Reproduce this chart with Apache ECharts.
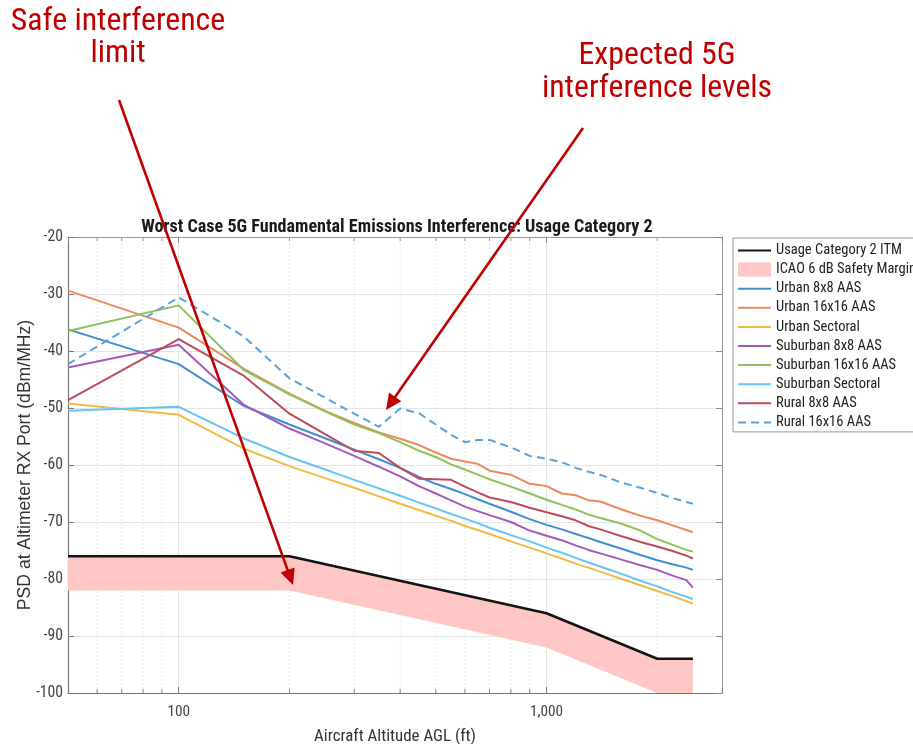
<!DOCTYPE html>
<html>
<head>
<meta charset="utf-8">
<script src="https://cdn.jsdelivr.net/npm/echarts@6/dist/echarts.min.js"></script>
<style>
  html, body { margin: 0; padding: 0; background: #ffffff; }
  #chart { width: 913px; height: 744px; }
</style>
</head>
<body>
<div id="chart"></div>
<script>
// ---- Data (aircraft altitude AGL in ft, PSD in dBm/MHz) ----
const altitudes = [50, 100, 150, 200, 250, 300, 350, 400, 450, 500, 550, 600, 650, 700,
                   800, 900, 1000, 1100, 1200, 1300, 1400, 1600, 1800, 2000, 2200, 2400, 2500];

const urban8x8         = [-36.2, -42.3, -49.6, -52.9, -55.3, -57.3, -59.0, -60.5, -62.1, -63.3, -64.2, -65.1, -66.0, -66.8,
                          -68.2, -69.5, -70.5, -71.3, -72.1, -72.8, -73.5, -74.7, -75.8, -76.7, -77.4, -78.0, -78.4];
const urban16x16       = [-29.4, -35.9, -43.1, -47.5, -50.5, -52.6, -54.3, -55.4, -56.5, -57.8, -58.9, -59.4, -59.8, -61.0,
                          -61.7, -63.3, -63.7, -65.0, -65.3, -66.2, -66.4, -67.8, -68.9, -69.7, -70.6, -71.4, -71.8];
const urbanSectoral    = [-49.2, -51.2, -57.1, -60.2, -62.3, -64.0, -65.5, -66.8, -67.9, -68.9, -69.8, -70.7, -71.4, -72.1,
                          -73.4, -74.5, -75.5, -76.4, -77.3, -78.0, -78.7, -80.0, -81.1, -82.1, -83.0, -83.9, -84.3];
const suburban8x8      = [-42.9, -38.9, -49.4, -53.6, -56.2, -58.4, -60.3, -62.0, -63.7, -65.0, -66.2, -67.3, -68.1, -68.8,
                          -70.0, -71.5, -72.4, -73.2, -74.1, -74.9, -75.5, -76.6, -77.6, -78.4, -79.4, -80.2, -81.5];
const suburban16x16    = [-36.5, -32.0, -43.3, -47.6, -50.6, -52.9, -54.4, -56.0, -57.5, -58.6, -59.9, -60.8, -61.7, -62.5,
                          -63.8, -65.0, -66.1, -67.0, -67.8, -68.7, -69.3, -70.3, -71.5, -73.0, -74.0, -74.9, -75.2];
const suburbanSectoral = [-50.5, -49.8, -55.3, -58.6, -60.8, -62.6, -64.1, -65.4, -66.6, -67.6, -68.6, -69.4, -70.2, -71.0,
                          -72.3, -73.4, -74.5, -75.4, -76.3, -77.1, -77.8, -79.1, -80.3, -81.3, -82.3, -83.1, -83.5];
const rural8x8         = [-48.6, -37.9, -44.3, -51.0, -54.6, -57.5, -57.9, -60.5, -62.4, -62.5, -62.6, -63.8, -64.8, -65.7,
                          -66.5, -67.5, -68.3, -69.0, -69.7, -70.7, -71.3, -72.5, -73.5, -74.3, -75.1, -75.9, -76.4];
const rural16x16       = [-42.3, -30.6, -37.4, -44.8, -48.2, -51.0, -53.3, -50.1, -50.9, -52.9, -54.7, -56.0, -55.6, -55.6,
                          -56.9, -58.4, -58.9, -59.5, -60.5, -61.2, -61.7, -63.1, -64.0, -64.9, -65.8, -66.5, -66.8];

// Usage Category 2 ITM interference limit and the ICAO safety margin below it
const itmAltitudes = [50, 200, 1000, 2000, 2500];
const itmLimit     = [-76, -76, -86, -94, -94];
const safetyMarginDb = 6;

// Axis settings
const xRange = [50, 3000];
const yRange = [-100, -20];
const yStep = 10;
const minorAltitudeTicks = [60, 70, 80, 90, 200, 300, 400, 500, 600, 700, 800, 900, 2000];

// ---- Fonts: use a narrow sans face for horizontal text when one is installed ----
function measure(family) {
  const ctx = document.createElement('canvas').getContext('2d');
  ctx.font = '40px ' + family;
  return ctx.measureText('Usage Category 2 ITM').width;
}
const REGULAR = '"Liberation Sans", Arial, sans-serif';
const baseWidth = measure('"Liberation Sans"');
let NARROW = REGULAR, scaleK = 1;
for (const cand of ['Liberation Sans Narrow', 'Arial Narrow', 'Roboto Condensed', 'Noto Sans Condensed', 'DejaVu Sans Condensed']) {
  const w = measure('"' + cand + '", "Liberation Sans"');
  if (w < 0.9 * baseWidth) {
    NARROW = '"' + cand + '", ' + REGULAR;
    scaleK = baseWidth / w;
    break;
  }
}
const fs = s => Math.round(s * scaleK * 10) / 10;

const RED = '#c00000';
const PINK = '#ffc6c6';

const pairs = vals => altitudes.map((a, i) => [a, vals[i]]);

function lineSeries(name, vals, color, dashed) {
  return {
    name, type: 'line', data: pairs(vals),
    symbol: 'none', showSymbol: false, z: 3,
    lineStyle: { color, width: 2, type: dashed ? [8, 5] : 'solid' },
    itemStyle: { color }
  };
}

function arrow(x1, y1, x2, y2) {
  const dx = x2 - x1, dy = y2 - y1, L = Math.hypot(dx, dy);
  const ux = dx / L, uy = dy / L, hl = 16, hw = 7.5;
  const bx = x2 - ux * hl, by = y2 - uy * hl;
  return [
    { type: 'line', z: 100, shape: { x1, y1, x2: bx + ux * 2, y2: by + uy * 2 },
      style: { stroke: RED, lineWidth: 2.6 } },
    { type: 'polygon', z: 100,
      shape: { points: [[x2, y2], [bx - uy * hw, by + ux * hw], [bx + uy * hw, by - ux * hw]] },
      style: { fill: RED } }
  ];
}

const logLabel = v => {
  const l = Math.log10(v);
  return Math.abs(l - Math.round(l)) < 1e-6 ? Math.round(v).toLocaleString('en-US') : '';
};

const chart = echarts.init(document.getElementById('chart'), null, { renderer: 'canvas' });

const option = {
  animation: false,
  backgroundColor: '#ffffff',
  title: {
    text: 'Worst Case 5G Fundamental Emissions Interference: Usage Category 2',
    left: 392, top: 213, textAlign: 'center',
    textStyle: { fontFamily: NARROW, fontSize: fs(15.6), fontWeight: 'bold', color: '#1a1a1a' }
  },
  grid: { left: 68, right: 191, top: 237, bottom: 51, containLabel: false, outerBoundsMode: 'none' },
  legend: {
    orient: 'vertical', left: 733, top: 238,
    padding: [5, 4, 2, 4], itemWidth: 33, itemHeight: 14, itemGap: 4.1,
    backgroundColor: '#ffffff', borderColor: '#9a9a9a', borderWidth: 1,
    selectedMode: false,
    // line entries show only their stroke; the band entry keeps its filled box
    itemStyle: { opacity: 0 },
    textStyle: { fontFamily: NARROW, fontSize: fs(12.5), lineHeight: 14, color: '#222' },
    data: [
      'Usage Category 2 ITM',
      { name: 'ICAO 6 dB Safety Margin', icon: 'rect', itemStyle: { color: PINK, opacity: 1 } },
      'Urban 8x8 AAS', 'Urban 16x16 AAS', 'Urban Sectoral',
      'Suburban 8x8 AAS', 'Suburban 16x16 AAS', 'Suburban Sectoral',
      'Rural 8x8 AAS', 'Rural 16x16 AAS'
    ]
  },
  xAxis: [
    {
      type: 'log', logBase: 10, min: xRange[0], max: xRange[1],
      name: 'Aircraft Altitude AGL (ft)', nameLocation: 'middle', nameGap: 35, nameMoveOverlap: false,
      nameTextStyle: { fontFamily: NARROW, fontSize: fs(14.6), color: '#333' },
      axisLine: { show: true, lineStyle: { color: '#777', width: 1.2 } },
      axisTick: { show: true, inside: true, length: 6, lineStyle: { color: '#777' } },
      axisLabel: { formatter: logLabel, margin: 12, fontFamily: NARROW, fontSize: fs(13.2), color: '#444' },
      splitLine: { show: true, lineStyle: { color: '#e4e4e4', width: 1 } },
      minorTick: { show: false }, minorSplitLine: { show: false }
    },
    {
      type: 'log', logBase: 10, min: xRange[0], max: xRange[1], position: 'top',
      axisLine: { show: true, lineStyle: { color: '#999', width: 1 } },
      axisTick: { show: true, inside: true, length: 6, lineStyle: { color: '#888' } },
      axisLabel: { show: false }, splitLine: { show: false }
    }
  ],
  yAxis: [
    {
      type: 'value', min: yRange[0], max: yRange[1], interval: yStep,
      name: 'PSD at Altimeter RX Port (dBm/MHz)', nameLocation: 'middle', nameGap: 34, nameMoveOverlap: false,
      nameTextStyle: { fontFamily: REGULAR, fontSize: 17.6, color: '#333' },
      axisLine: { show: true, lineStyle: { color: '#777', width: 1.2 } },
      axisTick: { show: true, inside: true, length: 6, lineStyle: { color: '#777' } },
      axisLabel: { margin: 5, fontFamily: NARROW, fontSize: fs(13.6), color: '#444' },
      splitLine: { show: true, lineStyle: { color: '#e4e4e4', width: 1 } }
    },
    {
      type: 'value', min: yRange[0], max: yRange[1], interval: yStep, position: 'right',
      axisLine: { show: true, lineStyle: { color: '#999', width: 1 } },
      axisTick: { show: true, inside: true, length: 6, lineStyle: { color: '#888' } },
      axisLabel: { show: false }, splitLine: { show: false }
    }
  ],
  series: [
    // dotted minor grid at 2..9 x decade, with inside ticks on bottom and top edges
    {
      name: 'minor grid', type: 'custom', silent: true, z: 1,
      data: minorAltitudeTicks.map(v => [v, yRange[0]]),
      renderItem: (params, api) => {
        const v = api.value(0);
        const b = api.coord([v, yRange[0]]);
        const t = api.coord([v, yRange[1]]);
        return {
          type: 'group',
          children: [
            { type: 'line', shape: { x1: b[0], y1: b[1], x2: t[0], y2: t[1] },
              style: { stroke: '#dedede', lineWidth: 1, lineDash: [1.5, 2.5] } },
            { type: 'line', shape: { x1: b[0], y1: b[1], x2: b[0], y2: b[1] - 4 },
              style: { stroke: '#888', lineWidth: 1 } },
            { type: 'line', shape: { x1: t[0], y1: t[1], x2: t[0], y2: t[1] + 4 },
              style: { stroke: '#999', lineWidth: 1 } }
          ]
        };
      }
    },
    // 6 dB safety margin band beneath the ITM limit
    {
      name: 'ICAO 6 dB Safety Margin', type: 'custom', z: 2, silent: true,
      itemStyle: { color: PINK },
      data: itmAltitudes.map((a, i) => [a, itmLimit[i]]),
      renderItem: (params, api) => {
        if (params.dataIndex !== 0) return null;
        const upper = itmAltitudes.map((a, i) => api.coord([a, itmLimit[i]]));
        const lower = itmAltitudes.map((a, i) => api.coord([a, Math.max(yRange[0], itmLimit[i] - safetyMarginDb)])).reverse();
        return { type: 'polygon', shape: { points: upper.concat(lower) }, style: { fill: PINK } };
      }
    },
    {
      name: 'Usage Category 2 ITM', type: 'line', symbol: 'none', z: 4,
      data: itmAltitudes.map((a, i) => [a, itmLimit[i]]),
      lineStyle: { color: '#141414', width: 2.6 }, itemStyle: { color: '#141414' }
    },
    lineSeries('Urban 8x8 AAS', urban8x8, '#3f8fd0'),
    lineSeries('Urban 16x16 AAS', urban16x16, '#ec8a5c'),
    lineSeries('Urban Sectoral', urbanSectoral, '#efbb45'),
    lineSeries('Suburban 8x8 AAS', suburban8x8, '#a45ab7'),
    lineSeries('Suburban 16x16 AAS', suburban16x16, '#8fc25a'),
    lineSeries('Suburban Sectoral', suburbanSectoral, '#66c5f0'),
    lineSeries('Rural 8x8 AAS', rural8x8, '#bd4b5b'),
    lineSeries('Rural 16x16 AAS', rural16x16, '#5aa2dc', true)
  ],
  graphic: [
    { type: 'text', z: 100, x: 118, y: 6,
      style: { text: 'Safe interference\nlimit', fill: RED, align: 'center', verticalAlign: 'top',
               font: fs(27.5) + 'px ' + NARROW, lineHeight: 32 } },
    { type: 'text', z: 100, x: 657, y: 40,
      style: { text: 'Expected 5G\ninterference levels', fill: RED, align: 'center', verticalAlign: 'top',
               font: fs(27.5) + 'px ' + NARROW, lineHeight: 33 } },
    ...arrow(119, 100, 293, 585),
    ...arrow(583, 128, 386, 410)
  ]
};

chart.setOption(option);
</script>
</body>
</html>
